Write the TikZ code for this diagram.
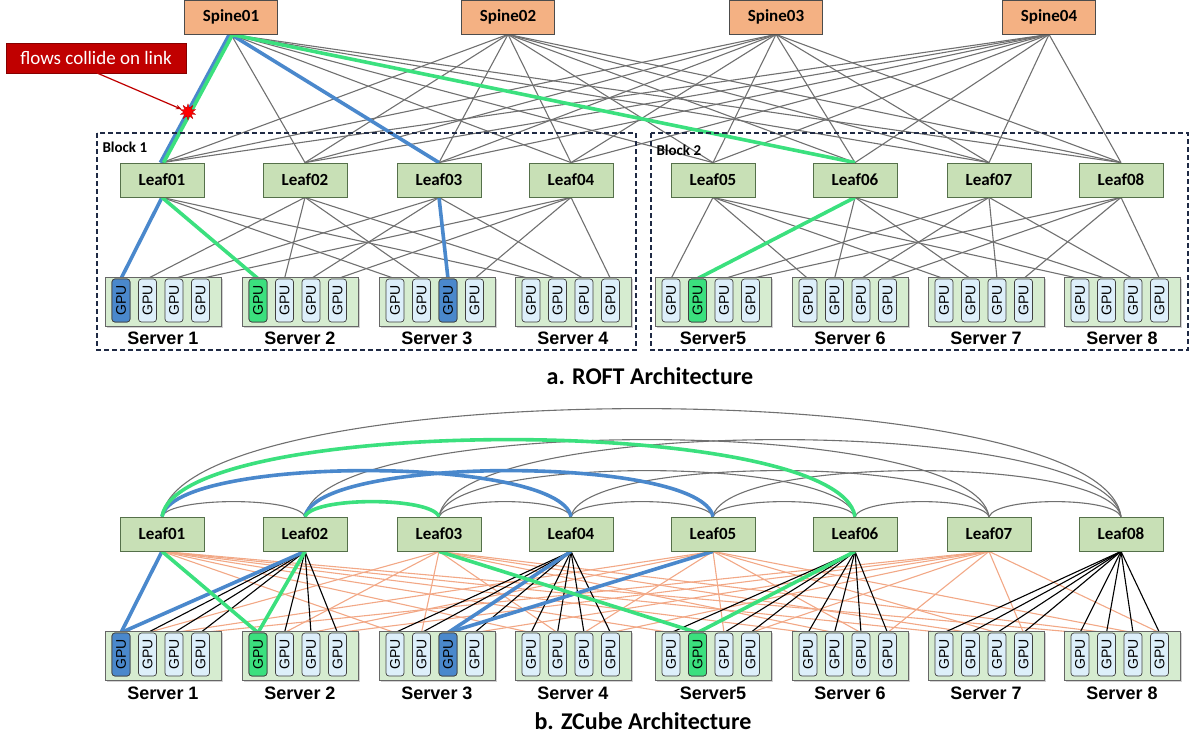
\documentclass[tikz,border=0pt]{standalone}
\usepackage{fontspec}
\setmainfont{Carlito}
\newfontfamily\arial{Liberation Sans}
\usetikzlibrary{shapes.geometric,backgrounds,shadows,arrows.meta}
\definecolor{leaffill}{HTML}{C8E0B6}
\definecolor{leafdraw}{HTML}{55704A}
\definecolor{spinefill}{HTML}{F4B183}
\definecolor{srvfill}{HTML}{D6ECD0}
\definecolor{gpufill}{HTML}{DDEFFA}
\definecolor{hlblue}{HTML}{4A88CC}
\definecolor{hlgreen}{HTML}{3BE07E}
\definecolor{lnk}{HTML}{707070}
\definecolor{orlnk}{HTML}{F2A886}
\definecolor{alarm}{HTML}{C00000}
\definecolor{navy}{HTML}{1F2A44}
\tikzset{
  leafbox/.style={draw=leafdraw,fill=leaffill,line width=0.8pt,minimum width=84pt,minimum height=34pt,font=\bfseries\fontsize{17}{17}\selectfont,inner sep=0pt},
  spinebox/.style={draw=black!70,fill=spinefill,line width=0.8pt,minimum width=93pt,minimum height=34pt,font=\bfseries\fontsize{17}{17}\selectfont,inner sep=0pt},
  srvbox/.style={draw=black!60,fill=srvfill,line width=0.8pt,minimum width=116pt,minimum height=49pt,anchor=north west,drop shadow={shadow xshift=2pt,shadow yshift=-2pt,fill=black!35}},
  gpubox/.style={draw=black!75,fill=gpufill,rounded corners=3pt,line width=0.7pt,minimum width=18pt,minimum height=43pt,inner sep=0pt,font=\arial\fontsize{14}{14}\selectfont},
  srvlbl/.style={font=\arial\bfseries\fontsize{18}{18}\selectfont},
  ttl/.style={font=\bfseries\fontsize{24}{24}\selectfont},
  glink/.style={draw=lnk,line width=1.1pt},
  olink/.style={draw=orlnk,line width=1.1pt},
  klink/.style={draw=black,line width=1.1pt},
  blink/.style={draw=hlblue,line width=3.6pt},
  gnlink/.style={draw=hlgreen,line width=3.6pt},
  blockbox/.style={draw=navy,dash pattern=on 5pt off 3pt,line width=1.3pt}
}
\begin{document}
\begin{tikzpicture}[x=1pt,y=-1pt]
\useasboundingbox (0,0) rectangle (1199,745);
% blocks
\draw[blockbox] (97,133) rectangle (636,350);
\draw[blockbox] (651,133) rectangle (1188,350);
\node[anchor=west,font=\bfseries\fontsize{15}{15}\selectfont] (blk1) at (99,147) {Block 1};
\node[anchor=west,font=\bfseries\fontsize{15}{15}\selectfont] (blk2) at (653,150) {Block 2};
% spines
\foreach \i/\x in {1/231,2/508,3/776,4/1049}
  \node[spinebox] (spine\i) at (\x,17) {Spine0\i};
% leaves
\foreach \i/\x in {1/162,2/305,3/439,4/571,5/713,6/855,7/989,8/1121}{
  \node[leafbox] (leafA\i) at (\x,180) {Leaf0\i};
  \node[leafbox] (leafB\i) at (\x,534) {Leaf0\i};
}
% servers
\foreach \s/\x/\lab in {1/105/Server 1,2/242/Server 2,3/379/Server 3,4/515/Server 4,5/655/Server5,6/792/Server 6,7/928/Server 7,8/1064/Server 8}{
  \node[srvbox] (srvA\s) at (\x,277) {};
  \node[srvbox] (srvB\s) at (\x,631) {};
  \node[srvlbl] (slA\s) at (\x+58,338) {\lab};
  \node[srvlbl] (slB\s) at (\x+58,693) {\lab};
  \foreach \g in {1,2,3,4}{
    \node[gpubox] (gpuA-\s-\g) at (\x+16+26.5*\g-26.5,300.5) {\rotatebox{90}{GPU}};
    \node[gpubox] (gpuB-\s-\g) at (\x+16+26.5*\g-26.5,654.5) {\rotatebox{90}{GPU}};
  }
}
% highlighted GPUs
\foreach \n/\c in {gpuA-1-1/hlblue,gpuA-2-1/hlgreen,gpuA-3-3/hlblue,gpuA-5-2/hlgreen,gpuB-1-1/hlblue,gpuB-2-1/hlgreen,gpuB-3-3/hlblue,gpuB-5-2/hlgreen}
  \node[gpubox,fill=\c] at (\n) {\rotatebox{90}{GPU}};
% titles
\node[ttl] (tA) at (650,376) {a. ROFT Architecture};
\node[ttl] (tB) at (643,721) {b. ZCube Architecture};
% collision annotation
\node[fill=alarm,draw=alarm!70!black,text=white,minimum width=180pt,minimum height=30pt,font=\fontsize{19}{19}\selectfont] (flow) at (96,58) {flows collide on link};
\node[star,star points=10,star point ratio=1.9,fill=red,draw=alarm,minimum size=16pt,inner sep=0pt] (bang) at (188,112) {};
\coordinate (fs) at (97,73);
\draw[alarm,line width=1.2pt,-{Stealth[length=6pt]}] (fs) -- (bang);
\begin{pgfonlayer}{background}
% ---- part a ----
\foreach \s in {1,...,4}\foreach \l in {1,...,8}
  \draw[glink] (spine\s.south) -- (leafA\l.north);
\foreach \l in {1,...,4}\foreach \s in {1,...,4}
  \draw[glink] (leafA\l.south) -- (gpuA-\s-\l.north);
\foreach \l in {5,...,8}\foreach \s in {5,...,8}{
  \pgfmathtruncatemacro\gg{\l-4}
  \draw[glink] (leafA\l.south) -- (gpuA-\s-\gg.north);
}
\draw[blink] (spine1.south) -- (leafA3.north);
\draw[blink] (leafA3.south) -- (gpuA-3-3.north);
\draw[blink] (leafA1.south) -- (gpuA-1-1.north);
\draw[gnlink] (spine1.south) -- (leafA6.north);
\draw[gnlink] (leafA6.south) -- (gpuA-5-2.north);
\draw[gnlink] (leafA1.south) -- (gpuA-2-1.north);
\draw[blink,transform canvas={xshift=-1.6pt}] (spine1.south) -- (leafA1.north);
\draw[gnlink,transform canvas={xshift=1.6pt}] (spine1.south) -- (leafA1.north);
% ---- part b ----
\foreach \s in {1,...,8}\foreach \g in {1,...,4}{
  \pgfmathtruncatemacro\ol{2*\g-1}
  \draw[olink] (leafB\ol.south) -- (gpuB-\s-\g.north);
}
\foreach \s in {1,...,8}\foreach \g in {1,...,4}{
  \pgfmathtruncatemacro\el{2*ceil(\s/2)}
  \draw[klink] (leafB\el.south) -- (gpuB-\s-\g.north);
}
\foreach \i/\j in {1/2,1/4,1/6,1/8,2/3,2/5,2/7,3/4,3/6,3/8,4/5,4/7,5/6,5/8,6/7,7/8}{
  \pgfmathsetmacro\hh{-4/3*(15+15.5*(\j-\i-1))}
  \pgfmathsetmacro\dd{6+2*(\j-\i)}
  \draw[glink] (leafB\i.north) .. controls +(\dd,\hh) and +(-\dd,\hh) .. (leafB\j.north);
}
\foreach \i/\j/\st in {1/4/blink,2/5/blink,1/6/gnlink,2/3/gnlink}{
  \pgfmathsetmacro\hh{-4/3*(15+15.5*(\j-\i-1))}
  \pgfmathsetmacro\dd{6+2*(\j-\i)}
  \draw[\st] (leafB\i.north) .. controls +(\dd,\hh) and +(-\dd,\hh) .. (leafB\j.north);
}
\draw[blink] (leafB1.south) -- (gpuB-1-1.north);
\draw[blink] (leafB2.south) -- (gpuB-1-1.north);
\draw[blink] (leafB4.south) -- (gpuB-3-3.north);
\draw[blink] (leafB5.south) -- (gpuB-3-3.north);
\draw[gnlink] (leafB1.south) -- (gpuB-2-1.north);
\draw[gnlink] (leafB2.south) -- (gpuB-2-1.north);
\draw[gnlink] (leafB3.south) -- (gpuB-5-2.north);
\draw[gnlink] (leafB6.south) -- (gpuB-5-2.north);
\end{pgfonlayer}
\end{tikzpicture}
\end{document}
